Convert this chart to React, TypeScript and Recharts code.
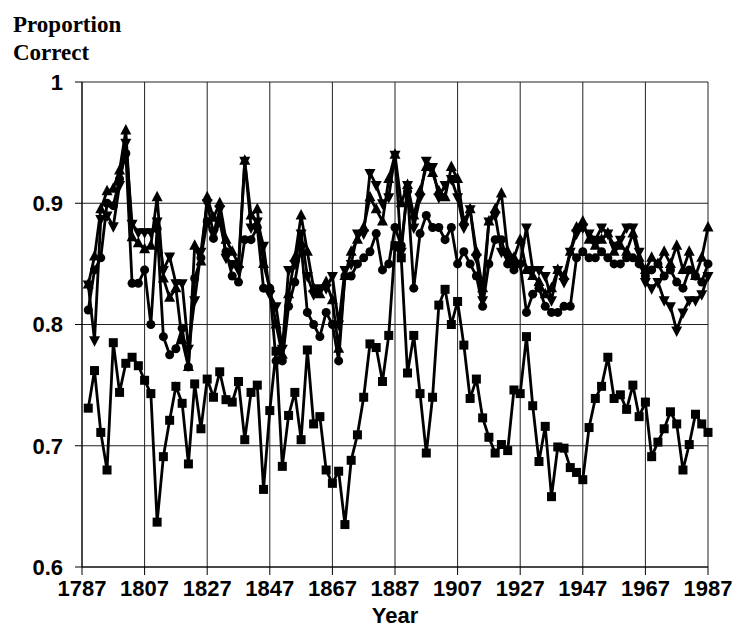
import { CartesianGrid, Line, LineChart, XAxis, YAxis } from 'recharts';

// biennial points, 1789..1987
const years = Array.from({ length: 100 }, (_, i) => 1789 + i * 2);

const xTicks = [1787, 1807, 1827, 1847, 1867, 1887, 1907, 1927, 1947, 1967, 1987];
const yTicks = [0.6, 0.7, 0.8, 0.9, 1];

const squareSeries = [
  0.731, 0.762, 0.711, 0.68, 0.785, 0.744, 0.768, 0.773, 0.766, 0.754,
  0.743, 0.637, 0.691, 0.721, 0.749, 0.735, 0.685, 0.751, 0.714, 0.755,
  0.74, 0.761, 0.738, 0.736, 0.753, 0.705, 0.744, 0.75, 0.664, 0.729,
  0.778, 0.683, 0.725, 0.744, 0.705, 0.779, 0.718, 0.724, 0.68, 0.669,
  0.679, 0.635, 0.688, 0.709, 0.74, 0.784, 0.781, 0.753, 0.791, 0.865,
  0.855, 0.76, 0.791, 0.743, 0.694, 0.74, 0.816, 0.829, 0.8, 0.819,
  0.783, 0.739, 0.755, 0.723, 0.707, 0.694, 0.701, 0.696, 0.746, 0.743,
  0.79, 0.733, 0.687, 0.716, 0.658, 0.699, 0.698, 0.682, 0.678, 0.672,
  0.715, 0.739, 0.749, 0.773, 0.739, 0.742, 0.73, 0.75, 0.724, 0.736,
  0.691, 0.703, 0.714, 0.728, 0.718, 0.68, 0.701, 0.726, 0.718, 0.711,
];

const circleSeries = [
  0.812, 0.845, 0.855, 0.9, 0.898, 0.92, 0.941, 0.834, 0.834, 0.845,
  0.8, 0.879, 0.79, 0.775, 0.78, 0.797, 0.765, 0.838, 0.855, 0.885,
  0.871, 0.885, 0.86, 0.84, 0.835, 0.87, 0.87, 0.88, 0.83, 0.83,
  0.77, 0.77, 0.815, 0.835, 0.865, 0.81, 0.8, 0.79, 0.81, 0.8,
  0.77, 0.84, 0.84, 0.85, 0.855, 0.86, 0.875, 0.845, 0.85, 0.88,
  0.865, 0.91, 0.83, 0.875, 0.89, 0.88, 0.88, 0.87, 0.88, 0.85,
  0.86, 0.85, 0.84, 0.815, 0.85, 0.87, 0.87, 0.85, 0.845, 0.85,
  0.81, 0.825, 0.83, 0.815, 0.81, 0.81, 0.815, 0.815, 0.855, 0.86,
  0.855, 0.855, 0.86, 0.855, 0.85, 0.85, 0.855, 0.855, 0.85, 0.84,
  0.845, 0.85, 0.84, 0.845, 0.835, 0.83, 0.845, 0.84, 0.835, 0.85,
];

const upSeries = [
  0.833, 0.856, 0.895, 0.91, 0.912, 0.927, 0.96, 0.872, 0.867, 0.862,
  0.865, 0.905, 0.838, 0.822, 0.83, 0.787, 0.765, 0.865, 0.852, 0.905,
  0.888, 0.9, 0.87, 0.86, 0.85, 0.935, 0.89, 0.895, 0.85, 0.83,
  0.8, 0.775, 0.825, 0.855, 0.89, 0.86, 0.83, 0.825, 0.835, 0.82,
  0.78, 0.84, 0.86, 0.87, 0.88, 0.905, 0.895, 0.885, 0.92, 0.94,
  0.9, 0.915, 0.89, 0.91, 0.93, 0.925, 0.91, 0.905, 0.93, 0.92,
  0.885, 0.895, 0.86, 0.83, 0.885, 0.895, 0.908, 0.86, 0.855, 0.87,
  0.845, 0.84, 0.835, 0.825, 0.83, 0.845, 0.84, 0.86, 0.88, 0.885,
  0.87, 0.865, 0.87, 0.875, 0.86, 0.865, 0.86, 0.875, 0.855, 0.845,
  0.855, 0.85, 0.86, 0.85, 0.865, 0.845, 0.86, 0.84, 0.855, 0.88,
];

const downSeries = [
  0.833, 0.787, 0.887, 0.89, 0.881, 0.915, 0.95, 0.883, 0.876, 0.876,
  0.876, 0.885, 0.845, 0.856, 0.834, 0.834, 0.78, 0.82, 0.86, 0.9,
  0.875, 0.895, 0.855, 0.85, 0.845, 0.935, 0.88, 0.885, 0.865, 0.825,
  0.815, 0.78, 0.845, 0.85, 0.875, 0.84, 0.825, 0.83, 0.83, 0.84,
  0.8, 0.845, 0.85, 0.875, 0.875, 0.925, 0.915, 0.9, 0.905, 0.94,
  0.86, 0.915, 0.88, 0.905, 0.935, 0.93, 0.905, 0.915, 0.92, 0.905,
  0.88, 0.895, 0.855, 0.82, 0.885, 0.89, 0.86, 0.855, 0.85, 0.85,
  0.88, 0.845, 0.845, 0.84, 0.82, 0.845, 0.835, 0.86, 0.875, 0.88,
  0.875, 0.87, 0.88, 0.875, 0.865, 0.87, 0.88, 0.88, 0.86, 0.835,
  0.83, 0.835, 0.82, 0.815, 0.795, 0.81, 0.82, 0.82, 0.825, 0.84,
];

const data = years.map((year, i) => ({
  year,
  sq: squareSeries[i],
  ci: circleSeries[i],
  up: upSeries[i],
  dn: downSeries[i],
}));

const tickFont = {
  fill: '#000',
  fontFamily: '"Liberation Sans", Arial, sans-serif',
  fontWeight: 'bold',
  fontSize: 22,
};

const SquareDot = (p: any) => (
  <rect key={`sq-${p.index}`} x={p.cx - 4.5} y={p.cy - 4.5} width={9} height={9} fill="#000" />
);
const CircleDot = (p: any) => (
  <circle key={`ci-${p.index}`} cx={p.cx} cy={p.cy} r={4.5} fill="#000" />
);
const UpDot = (p: any) => (
  <polygon
    key={`up-${p.index}`}
    points={`${p.cx},${p.cy - 6.5} ${p.cx - 5.5},${p.cy + 4} ${p.cx + 5.5},${p.cy + 4}`}
    fill="#000"
  />
);
const DownDot = (p: any) => (
  <polygon
    key={`dn-${p.index}`}
    points={`${p.cx},${p.cy + 6.5} ${p.cx - 5.5},${p.cy - 4} ${p.cx + 5.5},${p.cy - 4}`}
    fill="#000"
  />
);

const label = {
  position: 'absolute' as const,
  lineHeight: 1,
  fontWeight: 'bold',
  color: '#000',
  whiteSpace: 'nowrap' as const,
};

export default function App() {
  return (
    <div style={{ position: 'absolute', left: 0, top: 0, width: 736, height: 631, background: '#fff' }}>
      <LineChart
        width={736}
        height={631}
        data={data}
        margin={{ top: 82, right: 28, bottom: 24, left: 10 }}
      >
        <CartesianGrid stroke="#222" strokeWidth={1} />
        <XAxis
          dataKey="year"
          type="number"
          domain={[1787, 1987]}
          ticks={xTicks}
          interval={0}
          height={40}
          tick={tickFont}
          tickSize={8}
          tickMargin={5}
          stroke="#000"
        />
        <YAxis
          type="number"
          domain={[0.6, 1]}
          ticks={yTicks}
          interval={0}
          width={72}
          tick={tickFont}
          tickSize={7}
          tickMargin={12}
          stroke="#000"
          tickFormatter={(v: number) => (v === 1 ? '1' : v.toFixed(1))}
        />
        <Line dataKey="sq" stroke="#000" strokeWidth={2.8} dot={SquareDot} isAnimationActive={false} />
        <Line dataKey="ci" stroke="#000" strokeWidth={2.8} dot={CircleDot} isAnimationActive={false} />
        <Line dataKey="dn" stroke="#000" strokeWidth={2.8} dot={DownDot} isAnimationActive={false} />
        <Line dataKey="up" stroke="#000" strokeWidth={2.8} dot={UpDot} isAnimationActive={false} />
      </LineChart>
      <div style={{ ...label, left: 13, top: 13, fontSize: 23, fontFamily: '"Liberation Serif", "Times New Roman", serif' }}>
        Proportion
      </div>
      <div style={{ ...label, left: 13, top: 41, fontSize: 23, fontFamily: '"Liberation Serif", "Times New Roman", serif' }}>
        Correct
      </div>
      <div
        style={{
          ...label,
          left: 395,
          top: 605,
          transform: 'translateX(-50%)',
          fontSize: 22,
          fontFamily: '"Liberation Sans", Arial, sans-serif',
        }}
      >
        Year
      </div>
    </div>
  );
}
